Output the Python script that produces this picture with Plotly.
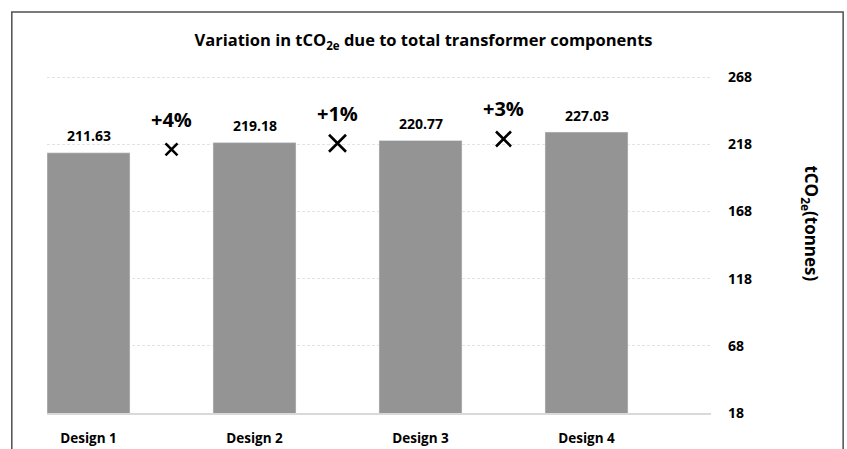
import plotly.graph_objects as go

# Chart data
designs = ["Design 1", "Design 2", "Design 3", "Design 4"]
emissions = [211.63, 219.18, 220.77, 227.03]
change_labels = ["+4%", "+1%", "+3%"]
change_marker_y = [214.2, 218.7, 221.9]
y_ticks = [18, 68, 118, 168, 218, 268]

FONT = "Open Sans"

fig = go.Figure()

# Bars
fig.add_trace(go.Bar(
    x=list(range(len(designs))), y=emissions, width=0.5,
    marker_color="#949494", showlegend=False,
))

# Value labels above each bar
for i, v in enumerate(emissions):
    fig.add_annotation(x=i, y=v, text=f"<b>{v:.2f}</b>", showarrow=False,
                       yshift=17, font=dict(family=FONT, size=14, color="black"))

# "X" markers between the bars, each with its percentage label above
mid_x = [i + 0.5 for i in range(len(change_labels))]
marker_sizes = [12, 17, 15]
for xv, yv, lab, ms in zip(mid_x, change_marker_y, change_labels, marker_sizes):
    fig.add_trace(go.Scatter(
        x=[xv], y=[yv], mode="markers",
        marker=dict(symbol="x-thin", size=ms, line=dict(width=2.6, color="black")),
        showlegend=False, cliponaxis=False,
    ))
    fig.add_annotation(x=xv, y=yv, text=f"<b>{lab}</b>", showarrow=False,
                       yshift=30, font=dict(family=FONT, size=20, color="black"))

fig.update_layout(
    width=847, height=449,
    margin=dict(l=47, r=136, t=34, b=36),
    paper_bgcolor="white", plot_bgcolor="white",
    font=dict(family=FONT, color="black"),
    title=dict(text="<b>Variation in tCO<sub>2e</sub> due to total transformer components</b>",
               x=0.5, xanchor="center", y=0.91, yanchor="middle",
               font=dict(size=16.5, color="black")),
)

fig.update_xaxes(
    range=[-0.25, 3.75], tickvals=list(range(len(designs))), ticktext=[f"<b>{d}</b>" for d in designs],
    showgrid=False, zeroline=False, showline=True, linecolor="#d9d9d9", linewidth=1.5,
    ticks="", ticklabelstandoff=12, tickfont=dict(size=13.5, color="black"), automargin=False,
)
fig.update_yaxes(
    range=[18, 300], side="right", tickvals=y_ticks, ticktext=[f"<b>{t}</b>" for t in y_ticks],
    showgrid=True, gridcolor="#e3e3e3", griddash="3px,2px", gridwidth=1,
    zeroline=False, showline=False, ticks="", ticklabelstandoff=16,
    tickfont=dict(size=14, color="black"), automargin=False,
)

# Right-hand axis title, reading top to bottom
fig.add_annotation(xref="paper", yref="paper", x=1.172, y=0.501,
                   text="<b>tCO<sub>2e</sub>(tonnes)</b>", textangle=90, showarrow=False,
                   font=dict(family=FONT, size=17, color="black"))

# Outer frame
fig.add_shape(type="rect", xref="paper", yref="paper",
              x0=-0.053, x1=1.199, y0=-0.2, y1=1.058,
              line=dict(color="#505050", width=1.5), layer="below")

fig.write_html("out.html", config={"displayModeBar": False},
               post_script="document.body.style.margin='0';")
